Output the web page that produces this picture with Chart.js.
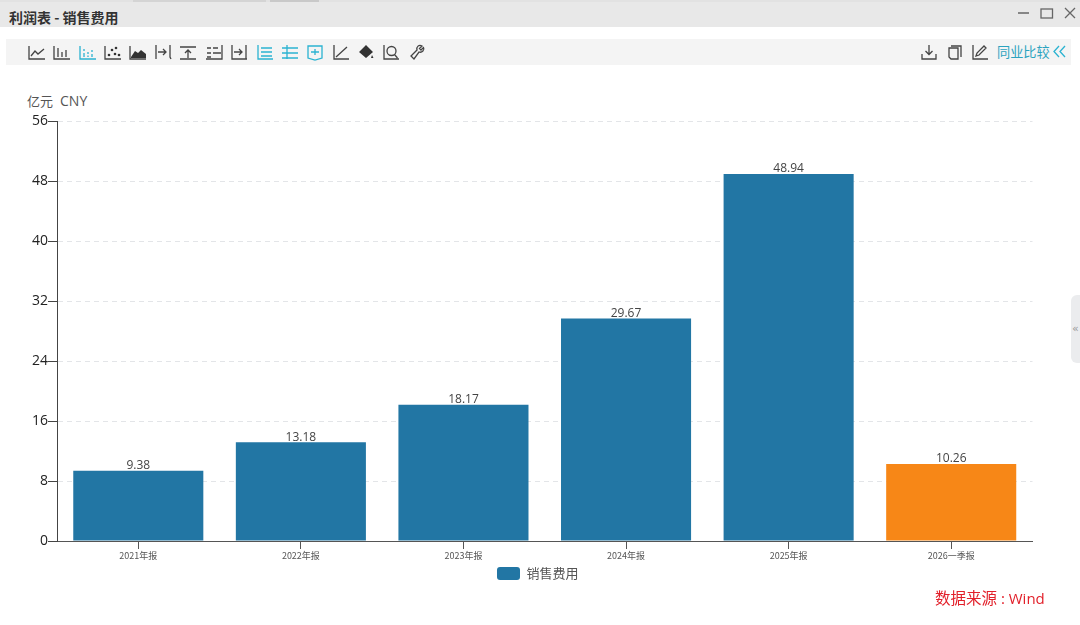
<!DOCTYPE html>
<html lang="zh"><head><meta charset="utf-8">
<script src="https://cdn.jsdelivr.net/npm/chart.js@4"></script>
<style>
html,body{margin:0;padding:0;background:#fff;width:1080px;height:625px;overflow:hidden;font-family:"Open Sans","Noto Sans CJK SC",sans-serif}
#wrap{position:relative;width:1080px;height:625px}
canvas{position:absolute;left:0;top:0}
.abs{position:absolute;white-space:nowrap}
#tbar{left:0;top:2px;width:1080px;height:25px;background:#e8e8e8}
#tline{left:0;top:0;width:1080px;height:2px;background:#e2e2e2}
#tline2{left:133px;top:0;width:133px;height:2px;background:#d4d4d4}
#tline3{left:270px;top:0;width:49px;height:2px;background:#c9c9c9}
#title{left:9px;top:8px;font:bold 14px/18px "Noto Sans CJK SC",sans-serif;color:#333}
#tool{left:6px;top:39px;width:1065px;height:26px;background:#f4f4f4}
#unit{left:27px;top:92px;font:13px/18px "Noto Sans CJK SC",sans-serif;color:#555}
#unit span{font:14px/18px "Open Sans",sans-serif;margin-left:7px}
#peer{left:997px;top:42px;font:13.2px/20px "Noto Sans CJK SC",sans-serif;color:#2ba3bf}
#src{left:935px;top:587px;font:15.5px/21px "Noto Sans CJK SC",sans-serif;color:#e2202a}
#src span{font:15px/21px "Open Sans",sans-serif}
#side{left:1071px;top:295px;width:9px;height:68px;background:#ebecee;border-radius:6px 0 0 6px;color:#999;font:11px/68px "DejaVu Sans",sans-serif;text-indent:1px;overflow:hidden}
svg{position:absolute;overflow:visible}
</style></head><body>
<div id="wrap">
<div class="abs" id="tline"></div><div class="abs" id="tline2"></div><div class="abs" id="tline3"></div>
<div class="abs" id="tbar"></div><div class="abs" id="title">利润表 - 销售费用</div>
<div class="abs" id="tool"></div>
<div class="abs" id="unit">亿元<span>CNY</span></div>
<div class="abs" id="peer">同业比较</div>
<div class="abs" id="side">«</div>
<canvas id="c" width="1080" height="625"></canvas>
<div class="abs" id="src">数据来源<span> : Wind</span></div>
<svg id="icons" width="1080" height="70" style="left:0;top:0"></svg>
</div>
<script>
const categories = ["2021年报","2022年报","2023年报","2024年报","2025年报","2026一季报"];
const salesExpense = [9.38,13.18,18.17,29.67,48.94,10.26];
const valueLabels = ["9.38","13.18","18.17","29.67","48.94","10.26"];
const barColors = ["#2276a4","#2276a4","#2276a4","#2276a4","#2276a4","#f78717"];
const seriesName = "销售费用";
const yMax = 56, yStep = 8;

const dark="#444", cyan="#2bb3d1";
const L="M0 2V15H16";
const toolIcons = [
 [37,dark,L+"M2 12L6 7L9 10L15 5"],
 [62,dark,L+"M4 4V13M8 8V13M12 6V13"],
 [88,cyan,L+"M4 5V7M4 9V13M8 8V10M8 11.500V13M12 6V8M12 10V13"],
 [113,dark,L],
 [138,dark,L],
 [163,dark,"M1 1V15M15 1V13L16 15M3 8H11M8 5L11 8L8 11"],
 [188,dark,"M0 3H16M0 15H16M8 14V6M5 9L8 6L11 9"],
 [214,dark,"M16 1V15H0M1 4H5M1 9H5M1 13H5M7 4H12M7 9H15"],
 [239,dark,"M1 1V15H16M15 1V15M3 8H11M8 5L11 8L8 11"],
 [265,cyan,"M1 1V15H16M4 4H15M4 8H15M4 12H15"],
 [290,cyan,"M5 1V15M0 4H16M0 9H16M0 14H16"],
 [315,cyan,"M1 2H15V14L8 16L1 14ZM8 5V11M4 8H12"],
 [341,dark,"M1 1V15H16M3 13L14 3"],
 [391,dark,"M1 1V15H16M14.500 14L11.500 10.500M13 7A4.500 4.500 0 1 1 4 7A4.500 4.500 0 1 1 13 7"],
 [417,dark,"M5 15L2 12L8 6C7 3 10 0 13 2L10.500 4.500L12 6L14.500 3.500C16 6 13 9 10 8Z"],
 [929,dark,"M1 10V15H15V10M8 1V10M4.500 7L8 10.500L11.500 7"],
 [955,dark,"M4 2H14V13M2 4H11V15H4L2 13Z"],
 [980,dark,"M1 1V15H16M4 12L5 9L12 2L14 4L7 11Z"],
 [1061,cyan,"M6 2L1 7.500L6 13M12 2L7 7.500L12 13"],
];
const svg = document.getElementById("icons");
let mk = "";
for (const [cx,col,d] of toolIcons) {
  mk += `<path transform="translate(${cx-8},44)" d="${d}" fill="none" stroke="${col}" stroke-width="1.300"/>`;
}
mk += `<g fill="#333"><circle cx="109" cy="55" r="1.300"/><circle cx="112" cy="50" r="1.300"/><circle cx="116" cy="48" r="1.300"/><circle cx="115" cy="54" r="1.300"/><circle cx="119" cy="55" r="1.300"/></g>`;
mk += `<path transform="translate(130,44)" d="M1 13L5 7L8 9L11 6L16 10V14H1Z" fill="#333"/>`;
mk += `<path transform="translate(358,44)" d="M8 1L15 8L8 14L1 8ZM14 11L15.500 14L13 14Z" fill="#333"/>`;
mk += `<path d="M1018 13H1029" stroke="#666" stroke-width="1.500"/>`;
mk += `<rect x="1041" y="9" width="11.500" height="9" fill="none" stroke="#666" stroke-width="1.300"/>`;
mk += `<path d="M1065 8L1075 18M1075 8L1065 18" stroke="#666" stroke-width="1.300"/>`;
svg.innerHTML = mk;

const valueLabelPlugin = {
  id:"valueLabels",
  afterDatasetsDraw(chart){
    const {ctx} = chart, meta = chart.getDatasetMeta(0);
    ctx.save();
    ctx.font = '12px "Open Sans","Noto Sans CJK SC",sans-serif';
    ctx.fillStyle = "#444"; ctx.textAlign = "center"; ctx.textBaseline = "bottom";
    meta.data.forEach((bar,i)=>ctx.fillText(valueLabels[i], bar.x, bar.y+1));
    ctx.restore();
  }
};
const legendShift = {
  id:"legendShift",
  afterLayout(chart){ chart.legend.left += 21.5; chart.legend.right += 21.5; }
};
new Chart(document.getElementById("c"),{
  type:"bar",
  data:{labels:categories,datasets:[{label:seriesName,data:salesExpense,backgroundColor:barColors,
    borderWidth:0,barPercentage:0.8,categoryPercentage:1}]},
  plugins:[valueLabelPlugin,legendShift],
  options:{
    responsive:false,animation:false,devicePixelRatio:1,
    layout:{padding:{top:121,right:47.5,bottom:35,left:0}},
    plugins:{
      tooltip:{enabled:false},
      legend:{position:"bottom",labels:{boxWidth:23,boxHeight:13,padding:6,useBorderRadius:true,borderRadius:3,
        color:"#555",font:{size:13,family:'"Noto Sans CJK SC",sans-serif'}}}
    },
    scales:{
      x:{
        afterFit(s){s.height=20;},
        grid:{offset:false,drawOnChartArea:false,drawTicks:true,tickLength:8,tickWidth:1,tickColor:"#555"},
        border:{color:"#555",width:1},
        ticks:{color:"#555",padding:1,maxRotation:0,autoSkip:false,font:{size:9,family:'"Noto Sans CJK SC",sans-serif'}}
      },
      y:{
        min:0,max:yMax,
        afterFit(s){s.width=57;},
        grid:{color:"#e3e5e8",tickColor:"#444",tickLength:9,tickBorderDash:[],lineWidth:1},
        border:{color:"#444",width:1,dash:[5,4]},
        ticks:{stepSize:yStep,color:"#222",padding:0,font:{size:14,family:'"Open Sans",sans-serif'}}
      }
    }
  }
});
</script>
</body></html>
